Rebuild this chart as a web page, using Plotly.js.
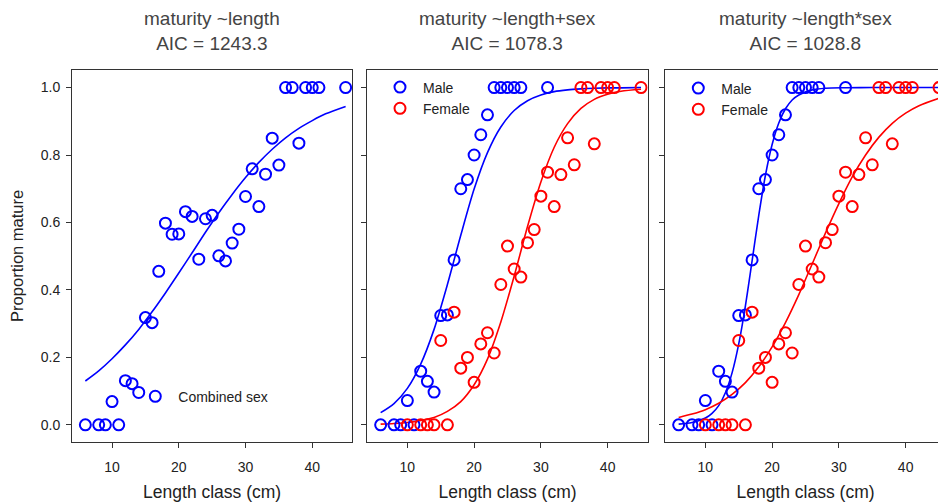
<!DOCTYPE html>
<html>
<head>
<meta charset="utf-8">
<script src="https://cdn.plot.ly/plotly-3.0.1.min.js"></script>
<style>
html,body{margin:0;padding:0;overflow:hidden;background:#fff;}
#chart{width:950px;height:504px;}
</style>
</head>
<body>
<div id="chart"></div>
<script>
// ---- Data ----
const titles = [
  "maturity ~length<br>AIC = 1243.3",
  "maturity ~length+sex<br>AIC = 1078.3",
  "maturity ~length*sex<br>AIC = 1028.8"
];
const xTickVals = [10, 20, 30, 40];
const yTickVals = [0, 0.2, 0.4, 0.6, 0.8, 1.0];

// combined sexes
const lenAll = [6,8,9,10,11,12,13,14,15,16,17,18,19,20,21,22,23,24,25,26,27,28,29,30,31,32,33,34,35,36,37,38,39,40,41,45];
const propAll = [0,0,0,0.069,0,0.131,0.122,0.096,0.318,0.303,0.455,0.598,0.565,0.566,0.632,0.618,0.491,0.611,0.621,0.501,0.486,0.539,0.580,0.677,0.759,0.647,0.743,0.850,0.770,1,1,0.835,1,1,1,1];

// males
const lenMale = [6,8,9,10,11,12,13,14,15,16,17,18,19,20,21,22,23,24,25,26,27,31];
const propMale = [0,0,0,0.072,0,0.159,0.129,0.097,0.324,0.326,0.489,0.700,0.727,0.800,0.860,0.919,1,1,1,1,1,1];

// females
const lenFemale = [10,12,13,14,15,16,17,18,19,20,21,22,23,24,25,26,27,28,29,30,31,32,33,34,35,36,37,38,39,40,41,45];
const propFemale = [0,0,0,0,0.250,0,0.334,0.168,0.200,0.126,0.240,0.273,0.213,0.416,0.530,0.462,0.438,0.540,0.579,0.678,0.749,0.647,0.742,0.851,0.771,1,1,0.833,1,1,1,1];

// fitted curves
const fitX = [6,8,10,12,14,16,18,20,22,24,26,28,30,32,34,36,38,40,42,45];
const fitAll = [0.130,0.160,0.196,0.237,0.283,0.335,0.391,0.450,0.510,0.571,0.629,0.683,0.733,0.778,0.817,0.851,0.879,0.902,0.922,0.944];
const fitAddMale = [0.036,0.063,0.108,0.180,0.283,0.416,0.562,0.699,0.807,0.883,0.932,0.961,0.978,0.988,0.993,0.996,0.998,0.999,0.999,1.000];
const fitAddFemale = [0.002,0.004,0.007,0.013,0.022,0.040,0.069,0.119,0.195,0.305,0.441,0.588,0.720,0.823,0.893,0.938,0.965,0.980,0.989,0.995];
const fitIntMaleX = [6,8,10,11,12,13,14,15,16,17,18,19,20,21,22,23,24,26,28,31,35,40,45];
const fitIntMale = [0.002,0.007,0.020,0.034,0.057,0.095,0.154,0.240,0.353,0.486,0.621,0.740,0.831,0.895,0.937,0.963,0.978,0.993,0.998,0.9995,1,1,1];
const fitIntFemale = [0.022,0.032,0.045,0.064,0.090,0.125,0.172,0.231,0.303,0.386,0.477,0.569,0.656,0.735,0.800,0.853,0.894,0.924,0.946,0.968];

// ---- Styling ----
const BLUE = "#0000ff", RED = "#ff0000";
const FONT = "Liberation Sans, Arial, sans-serif";
const W = 950, H = 504;
const px = v => v / W;
const py = v => 1 - v / H;

function pts(x, y, color, name, legend, show, xa, ya) {
  return {x: x, y: y, type: "scatter", mode: "markers", name: name,
    marker: {symbol: "circle-open", size: 11, color: color, line: {width: 2, color: color}},
    showlegend: show, legend: legend, xaxis: xa, yaxis: ya, hoverinfo: "skip"};
}
function line(x, y, color, xa, ya) {
  return {x: x, y: y, type: "scatter", mode: "lines", showlegend: false,
    line: {color: color, width: 1.6, shape: "spline", smoothing: 0.8},
    xaxis: xa, yaxis: ya, hoverinfo: "skip"};
}

const traces = [
  line(fitX, fitAll, BLUE, "x", "y"),
  pts(lenAll, propAll, BLUE, "Combined sex", "legend", true, "x", "y"),

  line(fitX, fitAddMale, BLUE, "x2", "y2"),
  line(fitX, fitAddFemale, RED, "x2", "y2"),
  pts(lenMale, propMale, BLUE, "Male", "legend2", true, "x2", "y2"),
  pts(lenFemale, propFemale, RED, "Female", "legend2", true, "x2", "y2"),

  line(fitIntMaleX, fitIntMale, BLUE, "x3", "y3"),
  line(fitX, fitIntFemale, RED, "x3", "y3"),
  pts(lenMale, propMale, BLUE, "Male", "legend3", true, "x3", "y3"),
  pts(lenFemale, propFemale, RED, "Female", "legend3", true, "x3", "y3")
];

const xDomains = [[72, 352.3], [367.3, 647.7], [665.3, 945.7]];
const yDomain = [py(441.7), py(70)];

function xaxis(i) {
  return {
    domain: [px(xDomains[i][0]), px(xDomains[i][1])],
    range: [4, 46], anchor: i === 0 ? "y" : "y" + (i + 1),
    showgrid: false, zeroline: false,
    showline: true, mirror: true, linecolor: "#333", linewidth: 1,
    ticks: "outside", ticklen: 5, tickwidth: 1, tickcolor: "#333",
    tickvals: xTickVals, ticktext: xTickVals.map(String),
    ticklabelstandoff: 7,
    tickfont: {family: FONT, size: 14, color: "#222"},
    title: {text: "Length class (cm)", font: {family: FONT, size: 17.5, color: "#222"}, standoff: 12}
  };
}
function yaxis(i) {
  return {
    domain: yDomain, range: [-0.05, 1.052], anchor: i === 0 ? "x" : "x" + (i + 1),
    showgrid: false, zeroline: false,
    showline: true, mirror: true, linecolor: "#333", linewidth: 1,
    ticks: "outside", ticklen: 5, tickwidth: 1, tickcolor: "#333",
    tickvals: yTickVals, ticktext: yTickVals.map(v => v.toFixed(1)),
    showticklabels: i === 0,
    ticklabelstandoff: 3,
    tickfont: {family: FONT, size: 14, color: "#222"},
    title: i === 0 ? {text: "Proportion mature", font: {family: FONT, size: 16.5, color: "#222"}, standoff: 12} : {text: ""}
  };
}

const legendBase = {
  bgcolor: "rgba(0,0,0,0)", borderwidth: 0,
  font: {family: FONT, size: 14, color: "#222"},
  xanchor: "left", yanchor: "middle", itemwidth: 36, tracegroupgap: 0
};

const annotations = titles.map((t, i) => ({
  text: t, xref: "paper", yref: "paper", showarrow: false,
  x: px((xDomains[i][0] + xDomains[i][1]) / 2), y: py(30.5),
  xanchor: "center", yanchor: "middle", align: "center",
  font: {family: FONT, size: 19, color: "#444"}
}));

const layout = {
  width: W, height: H,
  margin: {l: 0, r: 0, t: 0, b: 0},
  paper_bgcolor: "#fff", plot_bgcolor: "#fff",
  showlegend: true,
  xaxis: xaxis(0), xaxis2: xaxis(1), xaxis3: xaxis(2),
  yaxis: yaxis(0), yaxis2: yaxis(1), yaxis3: yaxis(2),
  legend: Object.assign({}, legendBase, {x: px(155.3 - 23), y: py(396.7)}),
  legend2: Object.assign({}, legendBase, {x: px(400 - 23), y: py(98)}),
  legend3: Object.assign({}, legendBase, {x: px(698.3 - 23), y: py(99)}),
  annotations: annotations
};

Plotly.newPlot("chart", traces, layout, {staticPlot: true, displayModeBar: false});
</script>
</body>
</html>
